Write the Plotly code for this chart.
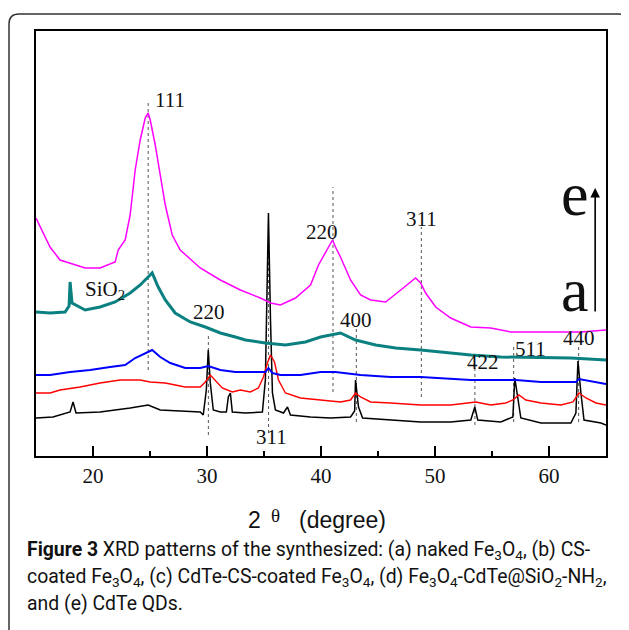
import plotly.graph_objects as go

# ---------------- data (2θ in degrees, intensity in arbitrary units) ----------------
tt_e = [15.0, 16.23, 17.11, 18.43, 19.31, 20.62, 21.94, 22.21, 22.82, 23.26, 23.70, 24.14, 24.58, 24.84,
        25.02, 25.46, 25.90, 26.34, 26.95, 27.65, 29.41, 31.17, 32.93, 34.68, 35.57, 36.44, 37.76, 39.08,
        39.78, 40.40, 41.01, 41.27, 41.71, 42.59, 43.47, 44.35, 45.67, 46.99, 47.86, 48.30, 48.74, 49.18,
        50.06, 51.38, 53.14, 54.89, 56.65, 58.41, 61.05, 62.80, 65.0]
i_e = [238, 209, 196, 191, 188, 188, 194, 206, 216, 241, 286, 316, 338, 343,
       336, 311, 281, 251, 221, 206, 188, 176, 166, 158, 153, 151, 158, 171,
       191, 204, 216, 209, 199, 176, 161, 156, 154, 166, 174, 178, 173, 163,
       149, 138, 129, 128, 124, 124, 124, 124, 126]

tt_d = [15.0, 16.23, 17.55, 17.90, 17.99, 18.10, 18.16, 19.31, 20.62, 21.94, 23.26, 24.14, 24.84, 25.19,
        25.72, 26.34, 27.21, 28.53, 29.85, 31.17, 32.49, 33.37, 35.12, 36.88, 38.64, 39.96, 41.71, 43.03,
        44.79, 46.55, 48.74, 50.50, 53.14, 55.77, 59.29, 61.92, 65.0]
i_d = [144, 143, 144, 150, 174, 153, 153, 146, 149, 154, 163, 171, 179, 183,
       169, 156, 143, 134, 129, 123, 119, 116, 113, 111, 114, 119, 123, 116,
       111, 108, 106, 104, 101, 99, 98, 98, 96]

tt_c = [15.0, 16.23, 17.99, 19.75, 21.50, 22.82, 23.70, 24.58, 25.19, 25.90, 26.78, 28.09, 29.41, 30.11,
        31.17, 32.49, 33.37, 35.12, 35.39, 35.74, 36.44, 38.20, 39.96, 41.27, 43.47, 46.11, 48.74, 50.50,
        53.14, 57.09, 59.29, 62.36, 62.63, 65.0]
i_c = [81, 81, 84, 86, 89, 91, 98, 103, 106, 99, 93, 88, 88, 90,
       86, 84, 84, 84, 88, 83, 81, 81, 84, 84, 81, 79, 79, 78,
       76, 76, 74, 74, 77, 72]

tt_b = [15.0, 16.23, 17.11, 18.87, 20.62, 22.38, 24.14, 25.02, 26.34, 28.09, 29.41, 29.85, 30.29, 30.73,
        31.34, 32.22, 32.93, 33.80, 34.51, 34.95, 35.30, 35.57, 35.92, 36.27, 36.88, 38.20, 39.96, 41.71,
        42.59, 43.03, 43.47, 44.35, 46.11, 48.74, 51.38, 53.14, 53.58, 54.89, 56.21, 56.83, 57.36, 57.97,
        59.29, 61.05, 62.10, 62.63, 63.24, 64.12, 65.0]
i_b = [63, 63, 66, 69, 73, 76, 76, 74, 73, 69, 69, 74, 81, 76,
       68, 64, 66, 64, 68, 79, 93, 101, 94, 76, 63, 58, 56, 54,
       56, 63, 59, 54, 53, 51, 51, 53, 54, 51, 53, 56, 61, 56,
       53, 51, 54, 63, 58, 53, 51]

tt_a = [15.0, 16.49, 17.99, 18.25, 18.51, 20.62, 23.26, 24.84, 25.90, 28.53, 29.41, 29.67, 29.94, 30.11,
        30.29, 30.55, 31.17, 31.70, 31.87, 32.05, 32.22, 33.37, 34.86, 35.12, 35.30, 35.39, 35.57, 35.74,
        36.00, 36.71, 37.06, 37.32, 39.08, 40.83, 42.59, 42.95, 43.03, 43.29, 43.65, 46.11, 48.74, 51.38,
        53.14, 53.49, 53.75, 55.77, 56.83, 57.00, 57.27, 57.53, 59.29, 61.92, 62.36, 62.54, 62.80, 63.07,
        64.56, 65.0]
i_a = [38, 39, 44, 54, 43, 44, 48, 51, 46, 44, 44, 41, 66, 106,
       73, 46, 44, 44, 59, 63, 44, 43, 44, 76, 209, 243, 136, 63,
       46, 43, 49, 41, 39, 38, 39, 45, 76, 49, 38, 36, 34, 34,
       36, 49, 36, 34, 39, 78, 56, 38, 33, 33, 43, 95, 63, 36,
       33, 31]

# reference (dotted) lines: position, lower and upper intensity
ref_pos = [24.84, 30.12, 35.40, 41.05, 48.80, 43.10, 53.50, 56.90, 62.60]
ref_lo = [86, 21, 23, 64, 59, 34, 31, 34, 34]
ref_hi = [354, 123, 206, 269, 229, 129, 88, 109, 111]

# peak labels
lab_text = ["111", "220", "311", "SiO<sub>2</sub>", "220", "400", "422", "511", "440", "311"]
lab_x = [25.28, 40.13, 48.83, 19.13, 30.20, 43.03, 54.19, 58.40, 62.63, 35.65]
lab_y = [356, 224, 237, 166, 144, 136, 94, 107, 118, 19]
lab_anchor = ["left", "center", "center", "left", "center", "center", "center", "center", "center", "center"]

x_ticks = [20, 30, 40, 50, 60]

series = [
    (tt_a, i_a, "#000000", 1.5),
    (tt_b, i_b, "#FF0000", 1.4),
    (tt_c, i_c, "#0000FF", 2.0),
    (tt_d, i_d, "#0B8080", 3.0),
    (tt_e, i_e, "#FF00FF", 1.5),
]

# ---------------- figure ----------------
# the page body has an 8px margin, so the figure is drawn 8px smaller and
# all screen positions below are given in window pixels.
OFF = 8
W, H = 629 - OFF, 630 - OFF
PL, PR, PT, PB = 36, 606, 31, 456          # plot area in window pixels
PW, PH = PR - PL, PB - PT
ML, MT = PL - OFF, PT - OFF
MR, MB = W - ML - PW, H - MT - PH


def px_x(p):
    return (p - PL) / PW


def px_y(p):
    return (PB - p) / PH


fig = go.Figure()

for pos, lo, hi in zip(ref_pos, ref_lo, ref_hi):
    fig.add_trace(go.Scatter(x=[pos, pos], y=[lo, hi], mode="lines",
                             line=dict(color="#555555", width=1, dash="dot"),
                             hoverinfo="skip", showlegend=False))

for xs, ys, col, lw in series:
    fig.add_trace(go.Scatter(x=xs, y=ys, mode="lines", line=dict(color=col, width=lw),
                             showlegend=False))

serif = "Liberation Serif, Times New Roman, serif"
sans = "Liberation Sans, Arial, sans-serif"
for t, x, y, a in zip(lab_text, lab_x, lab_y, lab_anchor):
    fig.add_annotation(x=x, y=y, text=t, showarrow=False, xanchor=a, yanchor="middle",
                       font=dict(family=serif, size=21, color="#111111"))

# e / a markers with arrow
fig.add_annotation(x=62.24, y=262, text="e", showarrow=False, xanchor="center", yanchor="middle",
                   font=dict(family=serif, size=62, color="#111111"))
fig.add_annotation(x=62.30, y=166, text="a", showarrow=False, xanchor="center", yanchor="middle",
                   font=dict(family=serif, size=62, color="#111111"))
fig.add_annotation(x=64.05, y=268, ax=64.05, ay=143, axref="x", ayref="y", xref="x", yref="y",
                   text="", showarrow=True, arrowhead=2, arrowsize=1.2, arrowwidth=1.6,
                   arrowcolor="#000000")

# outer rounded frame
x0, x1 = px_x(9), px_x(628.5)
yt, yb = px_y(14), px_y(660)
rx, ry = 10 / PW, 10 / PH
path = (f"M {x0},{yb} L {x0},{yt - ry} Q {x0},{yt} {x0 + rx},{yt} "
        f"L {x1 - rx},{yt} Q {x1},{yt} {x1},{yt - ry} L {x1},{yb}")
fig.add_shape(type="path", path=path, xref="paper", yref="paper",
              line=dict(color="#333333", width=1.5))

# axis title: "2 θ  (degree)"
fig.add_annotation(x=px_x(246), y=px_y(520), xref="paper", yref="paper", showarrow=False,
                   xanchor="left", yanchor="middle", text="2",
                   font=dict(family=sans, size=23, color="#111111"))
fig.add_annotation(x=px_x(275), y=px_y(515), xref="paper", yref="paper", showarrow=False,
                   xanchor="center", yanchor="middle", text="θ",
                   font=dict(family=serif, size=19, color="#111111"))
fig.add_annotation(x=px_x(297), y=px_y(520), xref="paper", yref="paper", showarrow=False,
                   xanchor="left", yanchor="middle", text="(degree)",
                   font=dict(family=sans, size=23, color="#111111"))

# caption
cap_font = dict(family="Roboto, Open Sans, sans-serif", size=19.4, color="#111111")
captions = [
    "<b>Figure 3</b> XRD patterns of the synthesized: (a) naked Fe<sub>3</sub>O<sub>4</sub>, (b) CS-",
    "coated Fe<sub>3</sub>O<sub>4</sub>, (c) CdTe-CS-coated Fe<sub>3</sub>O<sub>4</sub>, (d) Fe<sub>3</sub>O<sub>4</sub>-CdTe@SiO<sub>2</sub>-NH<sub>2</sub>,",
    "and (e) CdTe QDs.",
]
cap_y = [550, 577, 603]
for c, cy in zip(captions, cap_y):
    fig.add_annotation(x=px_x(25), y=px_y(cy), xref="paper", yref="paper",
                       showarrow=False, xanchor="left", yanchor="middle", text=c, font=cap_font)

fig.update_layout(
    width=W, height=H,
    margin=dict(l=ML, r=MR, t=MT, b=MB),
    paper_bgcolor="white", plot_bgcolor="white",
    xaxis=dict(range=[15, 65], tickvals=x_ticks, ticks="inside", ticklen=10, tickwidth=2,
               tickcolor="#000", showline=True, linewidth=2, linecolor="#000", mirror=True,
               showgrid=False, zeroline=False,
               tickfont=dict(family=serif, size=21, color="#111111"),
               minor=dict(dtick=5, tick0=0, ticks="inside", ticklen=5, tickwidth=2, tickcolor="#000")),
    yaxis=dict(range=[0, 425], showticklabels=False, ticks="", showline=True, linewidth=2,
               linecolor="#000", mirror=True, showgrid=False, zeroline=False),
)

fig.write_html("out.html")
